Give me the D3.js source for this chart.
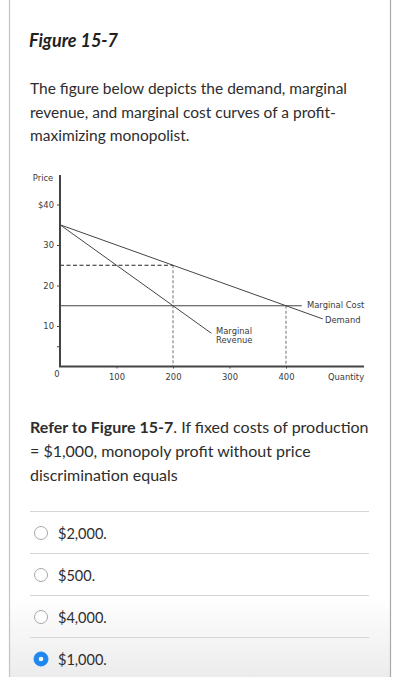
<!DOCTYPE html>
<html>
<head>
<meta charset="utf-8">
<script src="https://cdn.jsdelivr.net/npm/d3@7"></script>
<style>
  body { margin: 0; background: #fff; }
  svg { display: block; }
</style>
</head>
<body>
<div id="container"></div>
<script>
// chart data
var quantityTicks = [100, 200, 300, 400];
var priceTicks = [10, 20, 30, 40];
var minorPriceTicks = [5];
var demand = [[0, 35], [465, 11.75]];
var marginalRevenue = [[0, 35], [268, 8.2]];
var marginalCost = [[0, 15], [428, 15]];
var priceGuide = [[0, 25], [200, 25]];
var quantityGuides = [[[200, 25], [200, 0]], [[400, 15], [400, 0]]];

// question texts
var introLines = ["The figure below depicts the demand, marginal",
  "revenue, and marginal cost curves of a profit-",
  "maximizing monopolist."];
var questionLines = ["= $1,000, monopoly profit without price", "discrimination equals"];
var answers = ["$2,000.", "$500.", "$4,000.", "$1,000."];
var selected = 3;

var width = 399;
var height = 677;

var svg = d3.select("#container")
    .append("svg")
    .attr("width", width)
    .attr("height", height);

// bottom shading
var grad = svg.append("defs").append("linearGradient")
    .attr("id", "shade").attr("x1", 0).attr("y1", 0).attr("x2", 0).attr("y2", 1);
grad.append("stop").attr("offset", "0%").attr("stop-color", "#fff");
grad.append("stop").attr("offset", "100%").attr("stop-color", "#ececec");
svg.append("rect").attr("x", 9).attr("y", 595).attr("width", 381).attr("height", 82)
    .attr("fill", "url(#shade)");

// card borders
svg.append("line").attr("x1", 9.5).attr("x2", 9.5).attr("y1", 0).attr("y2", height)
    .attr("stroke", "#c4c4c4").attr("stroke-width", 1.2);
svg.append("line").attr("x1", 390.5).attr("x2", 390.5).attr("y1", 0).attr("y2", height)
    .attr("stroke", "#a9a9a9").attr("stroke-width", 1.2);

var lato = "Lato, 'Open Sans', sans-serif";

svg.append("text")
    .attr("x", 29).attr("y", 47)
    .attr("font-family", lato).attr("font-size", 18)
    .attr("font-weight", "bold").attr("font-style", "italic")
    .attr("fill", "#222")
    .text("Figure 15-7");

svg.selectAll(".intro")
    .data(introLines)
    .enter()
    .append("text")
    .attr("x", 30)
    .attr("y", (d, i) => 94 + i * 23.5)
    .attr("font-family", lato).attr("font-size", 15.5)
    .attr("fill", "#2d2d2d")
    .text(d => d);

// chart
var x = d3.scaleLinear().domain([0, 100]).range([60, 116.5]);
var y = d3.scaleLinear().domain([0, 10]).range([366.5, 326]);

var chartFont = "'DejaVu Sans', sans-serif";
var ink = "#444";

var line = d3.line().x(d => x(d[0])).y(d => y(d[1]));

svg.append("path").attr("d", line(priceGuide))
    .attr("fill", "none").attr("stroke", "#222").attr("stroke-width", 1)
    .attr("stroke-dasharray", "4,2.5");
svg.selectAll(".guide")
    .data(quantityGuides)
    .enter()
    .append("path")
    .attr("d", line)
    .attr("fill", "none").attr("stroke", "#888").attr("stroke-width", 1.2)
    .attr("stroke-dasharray", "3,2");

[demand, marginalRevenue, marginalCost].forEach(function (c) {
    svg.append("path").attr("d", line(c))
        .attr("fill", "none").attr("stroke", ink).attr("stroke-width", 1);
});

// axes
var yAxis = d3.axisLeft(y).tickValues(priceTicks.concat(minorPriceTicks))
    .tickSize(3).tickPadding(3)
    .tickFormat(d => d == 40 ? "$40" : d == 5 ? "" : d);
var gy = svg.append("g").attr("transform", "translate(" + x(0) + ",0)").call(yAxis);
var xAxis = d3.axisBottom(x).tickValues(quantityTicks).tickSize(2).tickPadding(6);
var gx = svg.append("g").attr("transform", "translate(0," + y(0) + ")").call(xAxis);
[gx, gy].forEach(function (g) {
    g.select(".domain").remove();
    g.selectAll("line").attr("stroke", ink);
    g.selectAll("text").attr("font-family", chartFont).attr("font-size", 8.4).attr("fill", "#3a3a3a");
});
svg.append("path")
    .attr("d", "M" + x(0) + "," + 175 + "V" + y(0) + "H" + 364)
    .attr("fill", "none").attr("stroke", ink).attr("stroke-width", 2);

function label(txt, px, py, anchor) {
    svg.append("text").attr("x", px).attr("y", py)
        .attr("font-family", chartFont).attr("font-size", 8.4)
        .attr("fill", "#3a3a3a").attr("text-anchor", anchor || "start")
        .text(txt);
}
label("Price", 43, 181, "middle");
label("0", 57, 377, "middle");
label("Quantity", 346, 380, "middle");
label("Marginal Cost", 307, 308);
label("Demand", 325, 323);
label("Marginal", 216, 334);
label("Revenue", 216, 343);

// question
var q = svg.append("text").attr("x", 30).attr("y", 433)
    .attr("font-family", lato).attr("font-size", 16).attr("fill", "#2d2d2d");
q.append("tspan").attr("font-weight", "bold").text("Refer to Figure 15-7");
q.append("tspan").text(". If fixed costs of production");
svg.selectAll(".qline")
    .data(questionLines)
    .enter()
    .append("text")
    .attr("x", 30)
    .attr("y", (d, i) => 457 + i * 24)
    .attr("font-family", lato).attr("font-size", 16)
    .attr("fill", "#2d2d2d")
    .text(d => d);

// answer options
var opt = svg.selectAll(".opt")
    .data(answers)
    .enter()
    .append("g")
    .attr("transform", (d, i) => "translate(0," + (i * 42) + ")");
opt.append("line")
    .attr("x1", 30).attr("x2", 369).attr("y1", 511.5).attr("y2", 511.5)
    .attr("stroke", "#d6d6d6").attr("stroke-width", 1);
opt.append("circle")
    .attr("cx", 41).attr("cy", 533)
    .attr("r", (d, i) => i == selected ? 7 : 6.5)
    .attr("fill", (d, i) => i == selected ? "#1e88f0" : "#fff")
    .attr("stroke", (d, i) => i == selected ? "#1e88f0" : "#a8a8a8")
    .attr("stroke-width", 1);
opt.filter((d, i) => i == selected).append("circle")
    .attr("cx", 41).attr("cy", 533).attr("r", 2.3).attr("fill", "#fff");
opt.append("text")
    .attr("x", 58).attr("y", 538.5)
    .attr("font-family", lato).attr("font-size", 14.5)
    .attr("fill", "#2d2d2d")
    .text(d => d);
</script>
</body>
</html>
